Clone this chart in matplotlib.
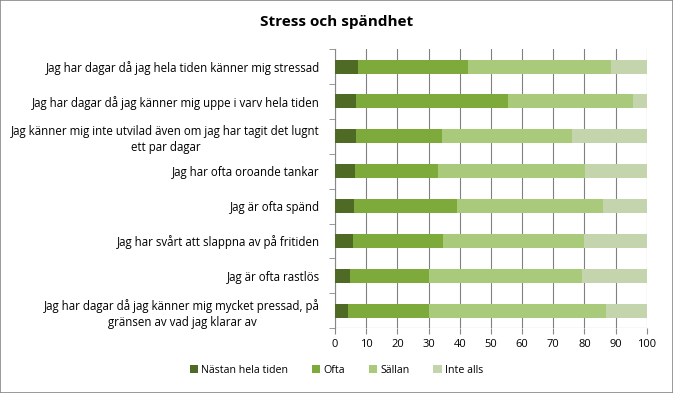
import matplotlib
matplotlib.use("Agg")
import matplotlib.pyplot as plt
import numpy as np

plt.rcParams["font.family"] = ["Open Sans", "DejaVu Sans"]

# data (top to bottom as shown)
statements = [
    "Jag har dagar då jag hela tiden känner mig stressad",
    "Jag har dagar då jag känner mig uppe i varv hela tiden",
    "Jag känner mig inte utvilad även om jag har tagit det lugnt\nett par dagar",
    "Jag har ofta oroande tankar",
    "Jag är ofta spänd",
    "Jag har svårt att slappna av på fritiden",
    "Jag är ofta rastlös",
    "Jag har dagar då jag känner mig mycket pressad, på\ngränsen av vad jag klarar av",
]
series = ["Nästan hela tiden", "Ofta", "Sällan", "Inte alls"]
nastan = [7.4, 6.8, 6.8, 6.5, 6.2, 5.8, 4.9, 4.2]
ofta = [35.3, 48.7, 27.6, 26.6, 33.0, 28.9, 25.3, 26.0]
sallan = [45.8, 40.2, 41.6, 47.1, 46.7, 45.2, 49.0, 56.7]
inte = [11.5, 4.3, 24.0, 19.8, 14.1, 20.1, 20.8, 13.1]
colors = ["#4F6A25", "#7DAA3A", "#A9CA7B", "#C4D5AE"]

fig = plt.figure(figsize=(6.73, 3.93), dpi=100)
fig.patches.append(plt.Rectangle((0, 0), 1, 1, transform=fig.transFigure,
                                 fill=False, edgecolor="#888888", lw=1.2))
ax = fig.add_axes([0.498, 0.165, 0.463, 0.71])

y = np.arange(len(statements))
left = np.zeros(len(statements))
for name, vals, c in zip(series, [nastan, ofta, sallan, inte], colors):
    ax.barh(y, vals, left=left, height=0.4, color=c, label=name, zorder=3)
    left += np.array(vals)

ax.set_xlim(0, 100)
ax.set_ylim(len(statements) - 0.5, -0.5)
ax.set_xticks(np.arange(0, 101, 10))
ax.set_yticks(y)
ax.set_yticklabels(statements, fontsize=8.3, linespacing=1.3, multialignment="center")
ax.set_yticks(np.arange(-0.5, len(statements), 1), minor=True)
ax.tick_params(axis="y", which="major", length=0, pad=11)
ax.tick_params(axis="y", which="minor", length=4, color="#888888")
ax.tick_params(axis="x", labelsize=8, length=4, color="#888888")
ax.grid(axis="x", color="#808080", lw=0.8, zorder=0)
for s in ["top", "right", "bottom"]:
    ax.spines[s].set_visible(False)
ax.spines["left"].set_color("#888888")
ax.axhline(len(statements) - 0.5, color="#888888", lw=0.8, zorder=4)

fig.text(0.5, 0.944, "Stress och spändhet", ha="center", va="center",
         fontsize=11, fontweight="bold")
fig.legend(loc="center", bbox_to_anchor=(0.5, 0.058), ncol=4, frameon=False,
           fontsize=7.7, handlelength=0.8, handleheight=0.8, handletextpad=0.3,
           columnspacing=2.2)

fig.savefig("out.png", dpi=100)
